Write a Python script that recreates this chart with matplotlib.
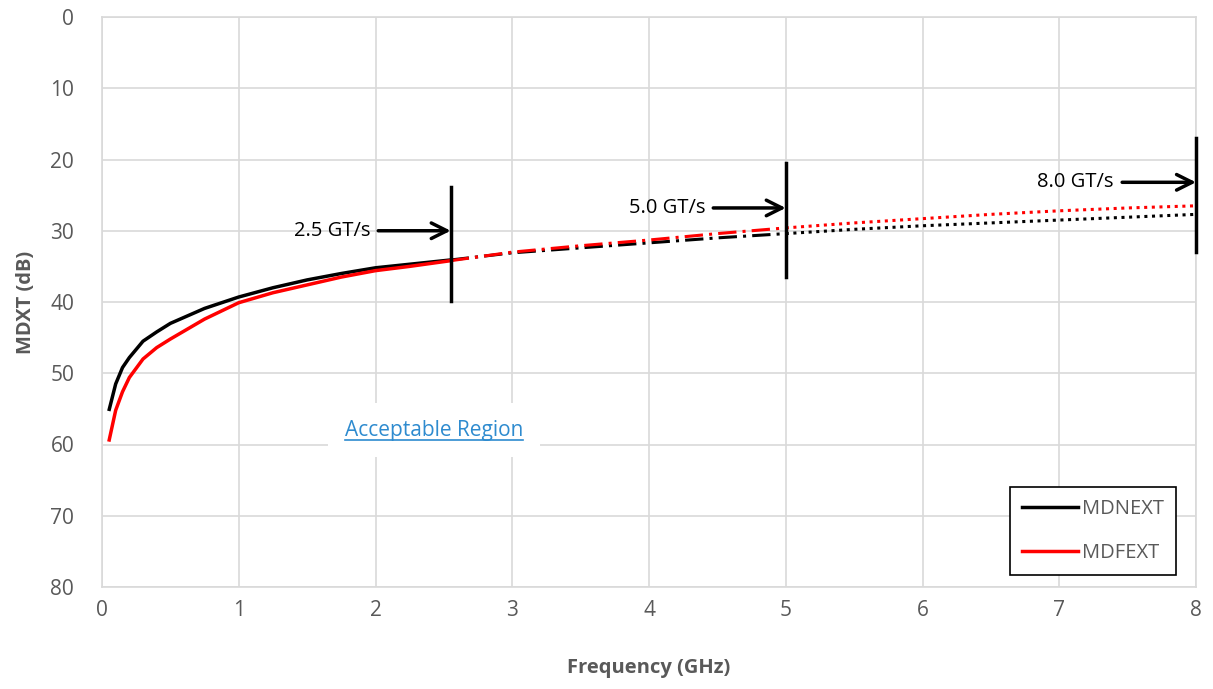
import numpy as np
import matplotlib.pyplot as plt

# frequency points (GHz) and crosstalk values (dB)
freq = [0.05, 0.1, 0.15, 0.2, 0.3, 0.4, 0.5, 0.75, 1.0, 1.25, 1.5, 1.75, 2.0,
        2.25, 2.55, 3.0, 3.5, 4.0, 4.5, 5.0, 5.5, 6.0, 6.5, 7.0, 7.5, 8.0]
mdnext = [55.3, 51.5, 49.2, 47.8, 45.5, 44.2, 43.0, 40.9, 39.3, 38.0, 36.9, 36.0, 35.2,
          34.7, 34.1, 33.1, 32.4, 31.7, 31.0, 30.4, 29.8, 29.3, 28.9, 28.5, 28.1, 27.7]
mdfext = [59.6, 55.2, 52.6, 50.6, 48.0, 46.4, 45.2, 42.4, 40.1, 38.7, 37.6, 36.5, 35.6,
          35.0, 34.2, 33.0, 32.1, 31.3, 30.4, 29.6, 28.9, 28.3, 27.7, 27.2, 26.8, 26.5]

# data-rate markers
rate_labels = ['2.5 GT/s', '5.0 GT/s', '8.0 GT/s']
rate_freq = [2.55, 5.0, 8.0]
rate_top = [23.9, 20.5, 17.0]
rate_bottom = [39.9, 36.5, 33.0]
rate_arrow_y = [30.0, 26.8, 23.2]
rate_arrow_start = [2.02, 4.47, 7.46]

GRAY = '#595959'
GRID = '#d9d9d9'
FONT = 'Open Sans'

fig = plt.figure(figsize=(12.13, 6.89), dpi=100)
ax = fig.add_axes([102 / 1213, 1 - 587 / 689, 1094 / 1213, 570 / 689])

f = np.array(freq)
segments = [(f <= 2.55, '-'), ((f >= 2.55) & (f <= 5.0), (0, (6, 2, 1, 2))), (f >= 5.0, (0, (1, 1.5)))]
for y, color in [(np.array(mdnext), 'black'), (np.array(mdfext), 'red')]:
    for i, (mask, ls) in enumerate(segments):
        ax.plot(f[mask], y[mask], color=color, lw=2.5 if i == 0 else 2.2, linestyle=ls,
                solid_capstyle='butt', zorder=3, clip_on=False)

# legend handles
ax.plot([], [], color='black', lw=2.5, label='MDNEXT')
ax.plot([], [], color='red', lw=2.5, label='MDFEXT')

for lab, x, top, bot, ay, ax0 in zip(rate_labels, rate_freq, rate_top, rate_bottom,
                                     rate_arrow_y, rate_arrow_start):
    ax.plot([x, x], [top, bot], color='black', lw=2.5, zorder=4, clip_on=False)
    arr = ax.annotate('', xy=(x, ay), xytext=(ax0, ay),
                      arrowprops=dict(arrowstyle='->', lw=2.5, color='black', mutation_scale=28,
                                      shrinkA=0, shrinkB=0), zorder=4)
    arr.arrow_patch.set_clip_on(False)
    ax.text(ax0 - 0.06, ay, lab, ha='right', va='center', fontsize=14.5, family=FONT, color='black')

ax.set_xlim(0, 8)
ax.set_ylim(80, 0)
ax.set_xticks(range(0, 9))
ax.set_yticks(range(0, 81, 10))
ax.grid(True, color=GRID, lw=1.2)
ax.set_axisbelow(True)
for s in ax.spines.values():
    s.set_color(GRID)
    s.set_linewidth(1.2)
ax.tick_params(length=0, labelsize=15, labelcolor=GRAY)
ax.tick_params(axis='y', pad=20)
ax.tick_params(axis='x', pad=9)
for t in ax.get_xticklabels() + ax.get_yticklabels():
    t.set_family(FONT)

ax.set_xlabel('Frequency (GHz)', fontsize=14.5, fontweight='bold', color=GRAY, family=FONT, labelpad=27)
ax.set_ylabel('MDXT (dB)', fontsize=14.5, fontweight='bold', color=GRAY, family=FONT, labelpad=10)

txt = ax.text(2.43, 58.0, 'Acceptable Region', ha='center', va='center', fontsize=15,
              family=FONT, color='#2e8bcf', zorder=5,
              bbox=dict(facecolor='white', edgecolor='none', pad=12))
fig.canvas.draw()
bb = txt.get_window_extent().transformed(ax.transData.inverted())
ax.plot([bb.x0, bb.x1], [bb.y0 - 0.15, bb.y0 - 0.15], color='#2e8bcf', lw=1.2, zorder=6)

leg = ax.legend(loc='lower right', bbox_to_anchor=(0.982, 0.021), borderaxespad=0,
                fancybox=False, edgecolor='black', framealpha=1, handlelength=2.8,
                labelspacing=1.2, borderpad=0.6, handletextpad=0.2,
                prop={'family': FONT, 'size': 14.5})
leg.get_frame().set_linewidth(1.2)
for t in leg.get_texts():
    t.set_color(GRAY)

fig.savefig('out.png', dpi=100)
